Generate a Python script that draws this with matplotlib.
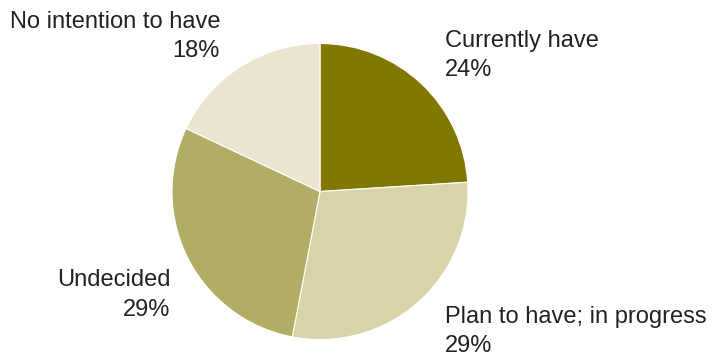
import matplotlib.pyplot as plt

plt.rcParams['font.family'] = ['Liberation Sans', 'DejaVu Sans']

# adoption status shares
labels = ['Currently have', 'Plan to have; in progress', 'Undecided', 'No intention to have']
shares = [24, 29, 29, 18]
colors = ['#807800', '#d8d4a8', '#b2ad64', '#e9e5cf']

# first-line baseline (x, y, ha) for each label, in pixel-like axis units
label_pos = [(445, 309.5, 'left'), (445, 33.5, 'left'), (170.5, 70, 'right'), (220, 328.5, 'right')]
line_step = 29.5

fig = plt.figure(figsize=(7.12, 3.56), dpi=100)
ax = fig.add_axes([0, 0, 1, 1])

ax.pie(shares, colors=colors, startangle=90, counterclock=False,
       center=(320, 164.5), radius=148,
       wedgeprops=dict(edgecolor='white', linewidth=0.8))
ax.set_xlim(0, 712)
ax.set_ylim(0, 356)
ax.set_aspect('equal')
ax.axis('off')

for lab, val, (x, y, ha) in zip(labels, shares, label_pos):
    ax.text(x, y, lab, ha=ha, va='baseline', fontsize=17, color='#222222')
    ax.text(x, y - line_step, '%d%%' % val, ha=ha, va='baseline', fontsize=17, color='#222222')

plt.savefig('out.png', dpi=100)
